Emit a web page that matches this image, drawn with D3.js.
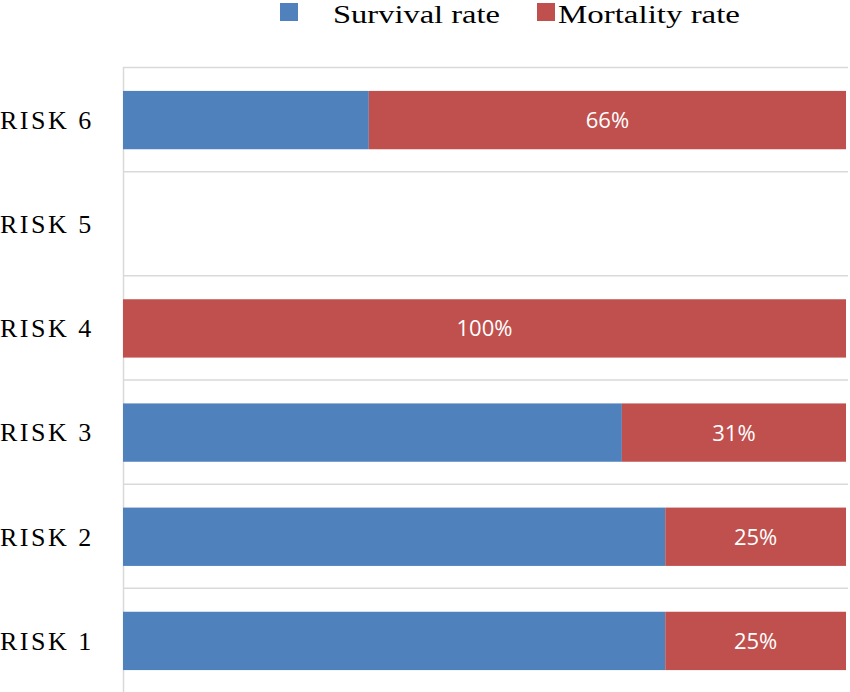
<!DOCTYPE html>
<html>
<head>
<meta charset="utf-8">
<script src="https://cdn.jsdelivr.net/npm/d3@7"></script>
<style>
  body { margin: 0; background: #fff; }
  svg { display: block; }
</style>
</head>
<body>
<script>
'use strict';

let WIDTH = 850;
let HEIGHT = 692;

// data, bottom to top like the original
let categories = ['RISK 1', 'RISK 2', 'RISK 3', 'RISK 4', 'RISK 5', 'RISK 6'];
let survival = [75, 75, 69, 0, null, 34];
let mortality = [25, 25, 31, 100, null, 66];
let seriesNames = ['Survival rate', 'Mortality rate'];
let seriesColors = ['#4f81bd', '#c0504d'];

let margin = { top: 67, right: 4, bottom: 0, left: 123 };

let svg = d3.select('body')
    .append('svg')
    .attr('width', WIDTH)
    .attr('height', HEIGHT);

let x = d3.scaleLinear()
    .domain([0, 100])
    .range([margin.left, WIDTH - margin.right]);

// top category is last
let y = d3.scaleBand()
    .domain(categories.slice().reverse())
    .range([margin.top, HEIGHT - margin.bottom])
    .paddingInner(0.44)
    .paddingOuter(0.22);

// band boundaries as gridlines
let step = y.step();
let grid = svg.append('g');
for (let i = 0; i < categories.length; i++) {
    grid.append('line')
        .attr('x1', margin.left)
        .attr('x2', WIDTH - 2)
        .attr('y1', margin.top + i * step + 0.5)
        .attr('y2', margin.top + i * step + 0.5)
        .attr('stroke', '#d9d9d9')
        .attr('stroke-width', 1.5);
}
grid.append('line')
    .attr('x1', margin.left + 0.5)
    .attr('x2', margin.left + 0.5)
    .attr('y1', margin.top)
    .attr('y2', HEIGHT)
    .attr('stroke', '#d9d9d9')
    .attr('stroke-width', 1.5);

let rows = categories.map((c, i) => ({ cat: c, s: survival[i], m: mortality[i] }));

let bars = svg.append('g');
rows.forEach((r) => {
    if (r.s === null) return;
    if (r.s > 0) {
        bars.append('rect')
            .attr('x', x(0))
            .attr('y', y(r.cat) + 1)
            .attr('width', x(r.s) - x(0))
            .attr('height', y.bandwidth())
            .attr('fill', seriesColors[0]);
    }
    bars.append('rect')
        .attr('x', x(r.s))
        .attr('y', y(r.cat) + 1)
        .attr('width', x(r.s + r.m) - x(r.s))
        .attr('height', y.bandwidth())
        .attr('fill', seriesColors[1]);
    bars.append('text')
        .attr('x', (x(r.s) + x(r.s + r.m)) / 2)
        .attr('y', y(r.cat) + 1 + y.bandwidth() / 2)
        .attr('dy', '0.36em')
        .attr('text-anchor', 'middle')
        .attr('fill', '#fff')
        .style('font-family', 'Open Sans, Liberation Sans, sans-serif')
        .style('font-size', '22px')
        .text(r.m + '%');
});

// category labels
let yAxis = svg.append('g');
categories.forEach((c) => {
    yAxis.append('text')
        .attr('x', 0)
        .attr('y', y(c) + 1 + y.bandwidth() / 2)
        .attr('dy', '0.34em')
        .attr('fill', '#000')
        .style('font-family', 'Liberation Serif, Times New Roman, serif')
        .style('font-size', '26px')
        .style('letter-spacing', '2.5px')
        .text(c);
});

// legend
let legend = svg.append('g');
let legendItems = [
    { sx: 280, tx: 333, len: 167 },
    { sx: 537, tx: 558, len: 182 }
];
seriesNames.forEach((name, i) => {
    legend.append('rect')
        .attr('x', legendItems[i].sx)
        .attr('y', 3)
        .attr('width', 18)
        .attr('height', 18)
        .attr('fill', seriesColors[i]);
    legend.append('text')
        .attr('x', legendItems[i].tx)
        .attr('y', 23)
        .attr('textLength', legendItems[i].len)
        .attr('lengthAdjust', 'spacingAndGlyphs')
        .attr('fill', '#000')
        .style('font-family', 'Liberation Serif, Times New Roman, serif')
        .style('font-size', '25px')
        .text(name);
});
</script>
</body>
</html>
